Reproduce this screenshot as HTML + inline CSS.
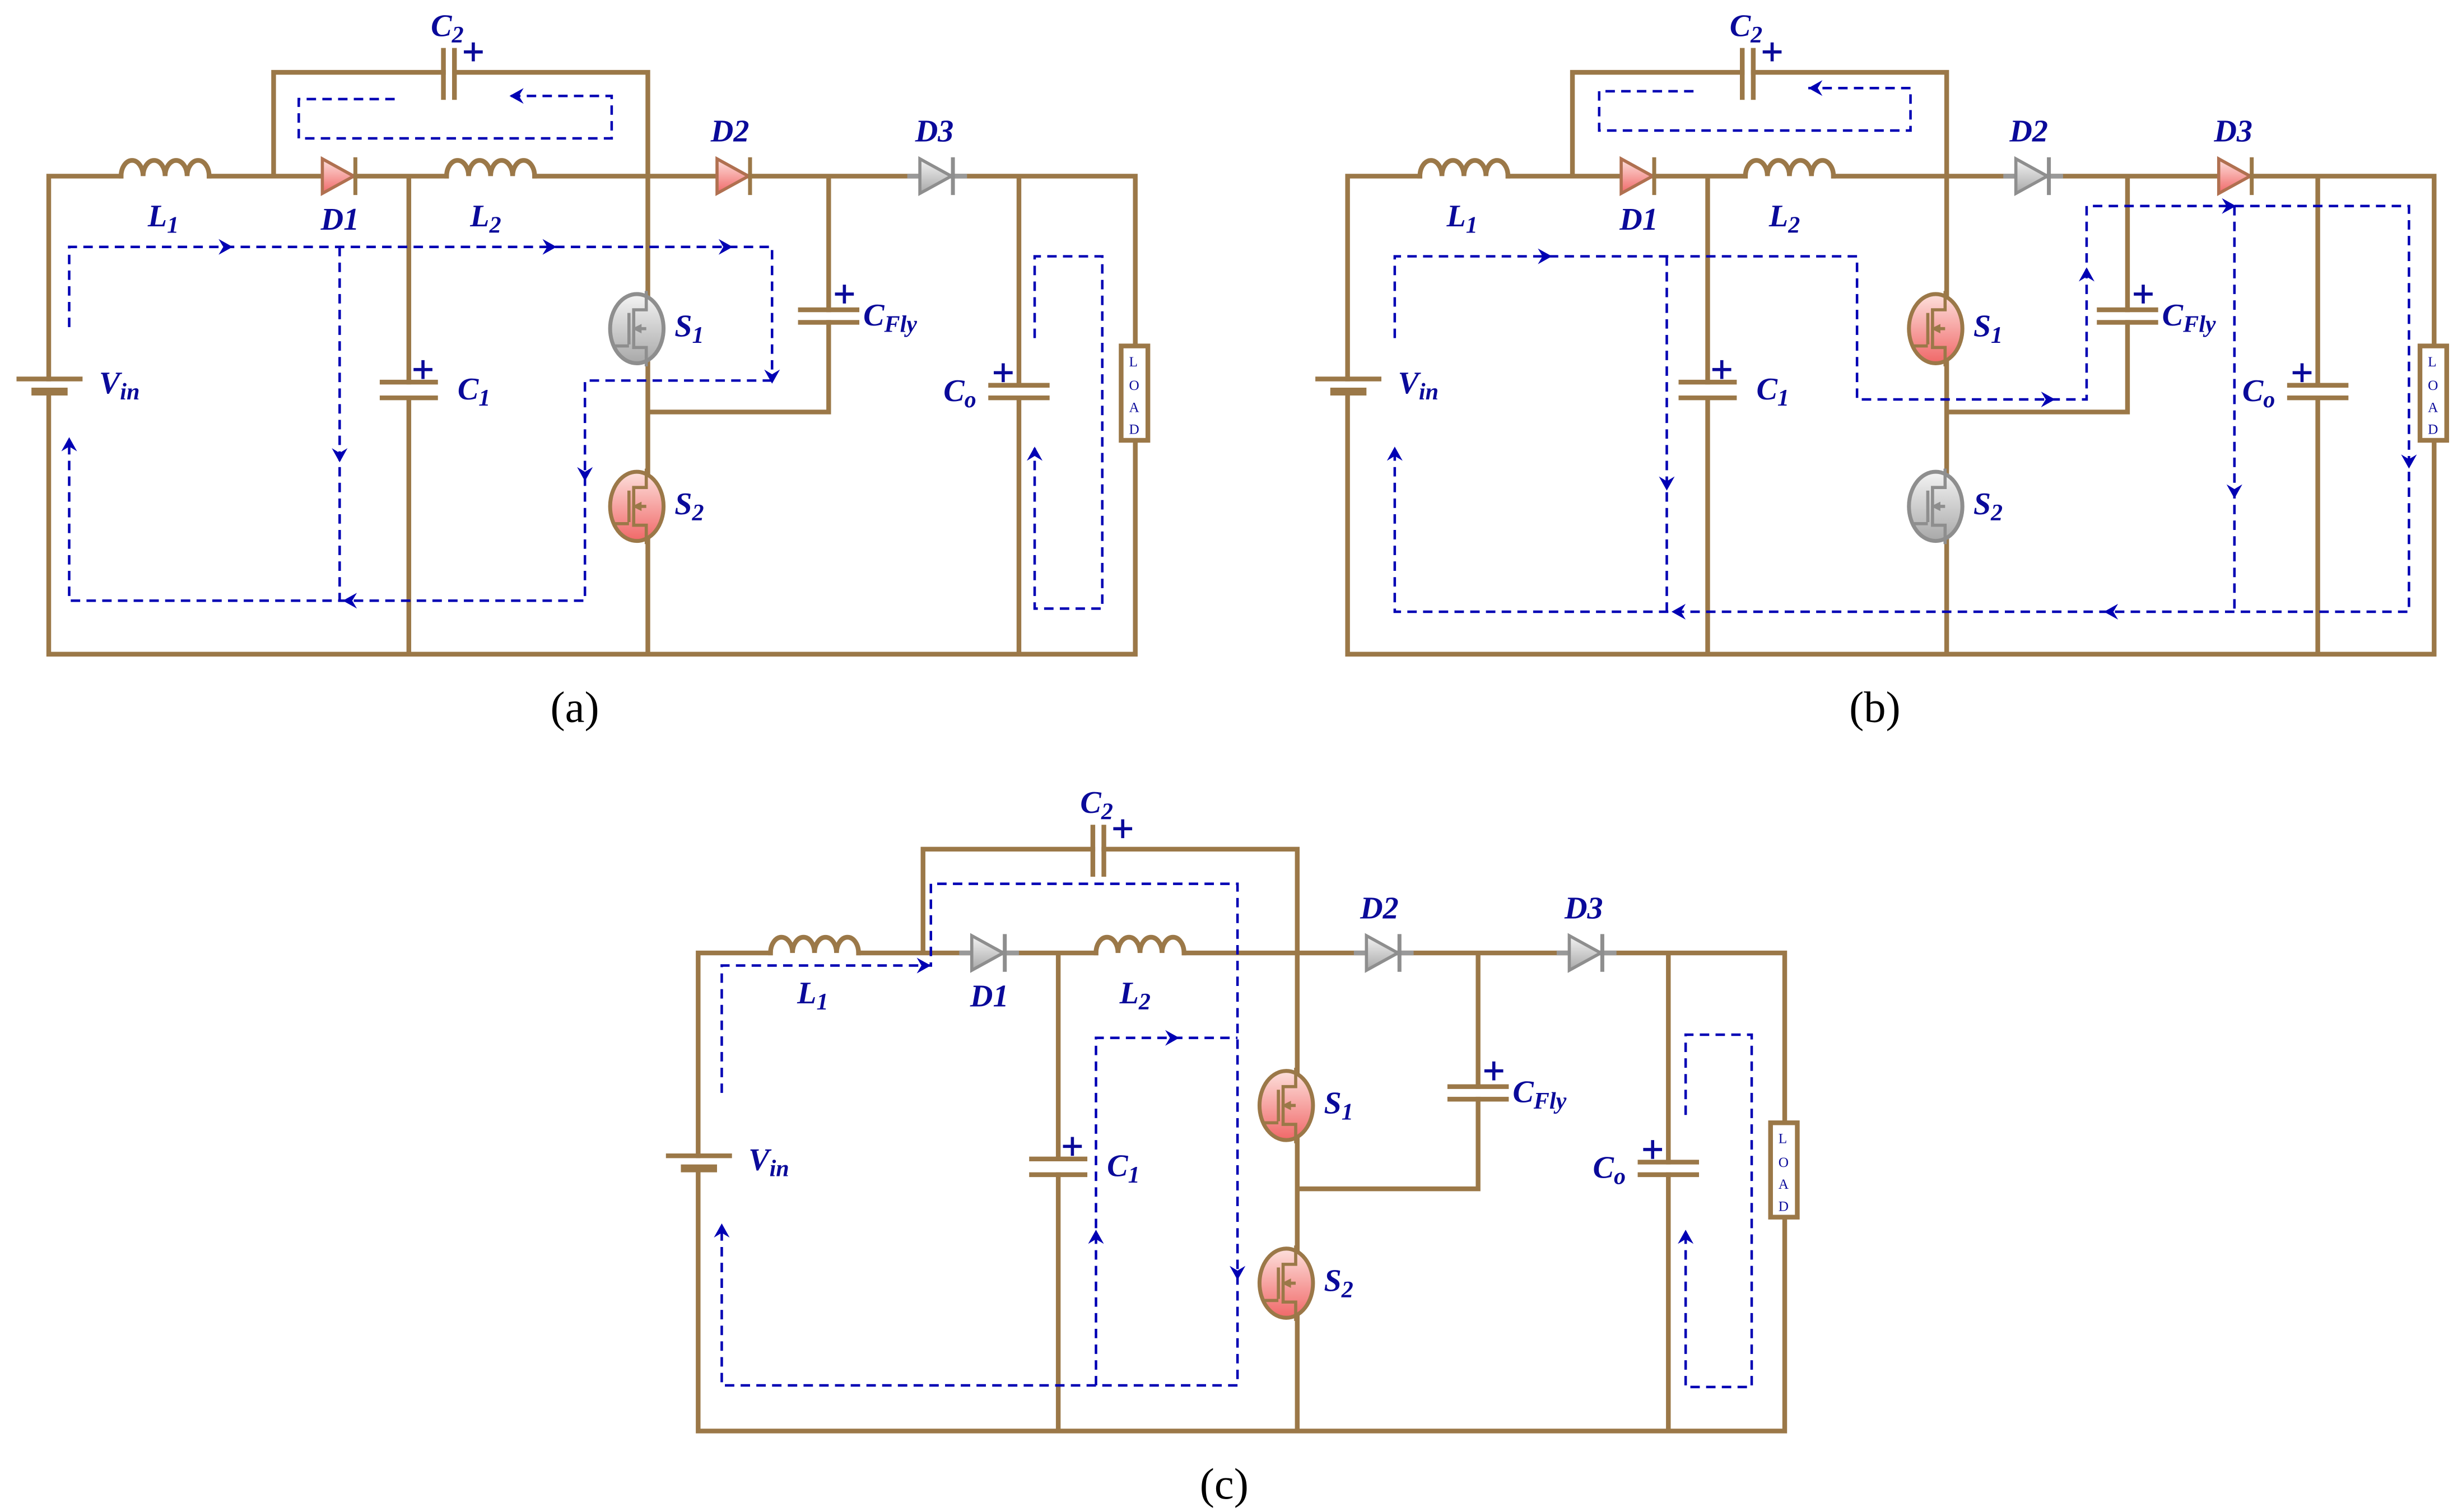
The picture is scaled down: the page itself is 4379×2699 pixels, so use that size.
<!DOCTYPE html>
<html><head><meta charset="utf-8"><style>
html,body{margin:0;padding:0;background:#fff;}
svg{display:block;}
.w{fill:none;stroke:#9b7848;stroke-width:3;stroke-linecap:square;}
.d{fill:none;stroke:#0000b4;stroke-width:1.6;stroke-dasharray:6,4;}
.t{font-family:"Liberation Serif",serif;font-weight:bold;font-style:italic;fill:#0a0a9a;font-size:20px;}
.s{font-size:15px;}
.cap{font-family:"Liberation Serif",serif;font-size:28px;fill:#000;}
.ld{font-family:"Liberation Serif",serif;font-size:9px;fill:#0a0a9a;}
</style></head><body>
<svg width="4379" height="2699" viewBox="0 0 1560 961.5" xmlns="http://www.w3.org/2000/svg">
<defs>
<linearGradient id="gp" x1="0" y1="0" x2="0" y2="1"><stop offset="0" stop-color="#fde0dc"/><stop offset="1" stop-color="#f06868"/></linearGradient>
<linearGradient id="gg" x1="0" y1="0" x2="0" y2="1"><stop offset="0" stop-color="#f4f4f4"/><stop offset="1" stop-color="#a8a8a8"/></linearGradient>
<g id="dp"><path d="M0,-11 L0,11 L20,0 Z" fill="url(#gp)" stroke="#b07050" stroke-width="2"/><path d="M21,-12V12" stroke="#9b7848" stroke-width="2.5"/></g>
<g id="dg"><path d="M-8,0H30" stroke="#999" stroke-width="3"/><path d="M0,-11 L0,11 L20,0 Z" fill="url(#gg)" stroke="#8e8e8e" stroke-width="2"/><path d="M21,-12V12" stroke="#8e8e8e" stroke-width="2.5"/></g>
<g id="mp"><ellipse cx="0" cy="0" rx="17" ry="22" fill="url(#gp)" stroke="#9b7848" stroke-width="2.5"/><path d="M6,-24V-12H-2V12H6V24 M-5,-10V10 M-15,11H-5 M-2,0H6" fill="none" stroke="#9b7848" stroke-width="2"/><path d="M-3,0 L3,-3 L3,3Z" fill="#9b7848"/></g>
<g id="mg"><ellipse cx="0" cy="0" rx="17" ry="22" fill="url(#gg)" stroke="#8e8e8e" stroke-width="2.5"/><path d="M6,-24V-12H-2V12H6V24 M-5,-10V10 M-15,11H-5 M-2,0H6" fill="none" stroke="#8e8e8e" stroke-width="2"/><path d="M-3,0 L3,-3 L3,3Z" fill="#8e8e8e"/></g>
<path id="ar" d="M0,0 L-9,-5 L-6,0 L-9,5Z" fill="#0000b4"/>
<g id="base">
<path class="w" d="M31,241V112H77 M133,112H205 M174,112V46H282 M289,46H412V416 M226,112H284 M340,112H456 M477,112H585 M606,112H722V220 M722,280V416H31V249 M260,112V243 M260,253V416 M527,112V197 M527,205V262H412 M648,112V245 M648,253V416"/>
<path class="w" d="M77,112 a7,10 0 0 1 14,0 a7,10 0 0 1 14,0 a7,10 0 0 1 14,0 a7,10 0 0 1 14,0 M284,112 a7,10 0 0 1 14,0 a7,10 0 0 1 14,0 a7,10 0 0 1 14,0 a7,10 0 0 1 14,0"/>
<path class="w" d="M12,241H51"/>
<path d="M20,249H43" stroke="#9b7848" stroke-width="5"/>
<path class="w" d="M282,32V62 M289,32V62 M243,243H277 M243,253H277 M509,197H545 M509,205H545 M630,245H666 M630,253H666"/>
<rect x="713" y="220" width="17" height="60" fill="#fff" stroke="#9b7848" stroke-width="3"/>
<path d="M295,33h12 M301,27v12 M263,235h12 M269,229v12 M531,187h12 M537,181v12 M632,237h12 M638,231v12" stroke="#0a0a9a" stroke-width="2"/>
</g>
</defs>

<!-- panel a -->
<use href="#base"/>
<use href="#dp" x="205" y="112"/><use href="#dp" x="456" y="112"/><use href="#dg" x="585" y="112"/>
<use href="#mg" x="405" y="209"/><use href="#mp" x="405" y="322"/>
<g class="t"><text x="274" y="23">C<tspan class="s" dy="4">2</tspan></text><text x="94" y="144">L<tspan class="s" dy="4">1</tspan></text><text x="204" y="146">D1</text><text x="299" y="144">L<tspan class="s" dy="4">2</tspan></text><text x="452" y="90">D2</text><text x="582" y="90">D3</text><text x="63" y="250">V<tspan class="s" dy="4">in</tspan></text><text x="291" y="254">C<tspan class="s" dy="4">1</tspan></text><text x="429" y="214">S<tspan class="s" dy="4">1</tspan></text><text x="429" y="327">S<tspan class="s" dy="4">2</tspan></text><text x="549" y="207">C<tspan class="s" dy="4">Fly</tspan></text><text x="600" y="255">C<tspan class="s" dy="4">o</tspan></text></g>
<g class="ld"><text x="718" y="233">L</text><text x="718" y="248">O</text><text x="718" y="262">A</text><text x="718" y="276">D</text></g>
<path class="d" d="M251,63H190V88H389V61H324 M44,208V157H491V242 M491,242H372V382H44V280 M216,157V382 M658,215V163H701V387H658V285"/>
<use href="#ar" transform="translate(324,61) rotate(180)"/><use href="#ar" transform="translate(148,157)"/><use href="#ar" transform="translate(354,157)"/><use href="#ar" transform="translate(466,157)"/><use href="#ar" transform="translate(491,244) rotate(90)"/><use href="#ar" transform="translate(372,306) rotate(90)"/><use href="#ar" transform="translate(216,294) rotate(90)"/><use href="#ar" transform="translate(218,382) rotate(180)"/><use href="#ar" transform="translate(44,278) rotate(-90)"/><use href="#ar" transform="translate(658,284) rotate(-90)"/>
<text class="cap" x="350" y="459">(a)</text>

<!-- panel b -->
<g transform="translate(826,0)">
<use href="#base"/>
<use href="#dp" x="205" y="112"/><use href="#dg" x="456" y="112"/><use href="#dp" x="585" y="112"/>
<use href="#mp" x="405" y="209"/><use href="#mg" x="405" y="322"/>
<g class="t"><text x="274" y="23">C<tspan class="s" dy="4">2</tspan></text><text x="94" y="144">L<tspan class="s" dy="4">1</tspan></text><text x="204" y="146">D1</text><text x="299" y="144">L<tspan class="s" dy="4">2</tspan></text><text x="452" y="90">D2</text><text x="582" y="90">D3</text><text x="63" y="250">V<tspan class="s" dy="4">in</tspan></text><text x="291" y="254">C<tspan class="s" dy="4">1</tspan></text><text x="429" y="214">S<tspan class="s" dy="4">1</tspan></text><text x="429" y="327">S<tspan class="s" dy="4">2</tspan></text><text x="549" y="207">C<tspan class="s" dy="4">Fly</tspan></text><text x="600" y="255">C<tspan class="s" dy="4">o</tspan></text></g>
<g class="ld"><text x="718" y="233">L</text><text x="718" y="248">O</text><text x="718" y="262">A</text><text x="718" y="276">D</text></g>
<path class="d" d="M251,58H191V83H389V56H324 M61,215V163H355V254H501V131H706V389H61V285 M234,163V389 M595,131V389"/>
<use href="#ar" transform="translate(324,56) rotate(180)"/><use href="#ar" transform="translate(161,163)"/><use href="#ar" transform="translate(481,254)"/><use href="#ar" transform="translate(501,170) rotate(-90)"/><use href="#ar" transform="translate(596,131)"/><use href="#ar" transform="translate(706,298) rotate(90)"/><use href="#ar" transform="translate(512,389) rotate(180)"/><use href="#ar" transform="translate(237,389) rotate(180)"/><use href="#ar" transform="translate(61,284) rotate(-90)"/><use href="#ar" transform="translate(234,312) rotate(90)"/><use href="#ar" transform="translate(595,317) rotate(90)"/>
<text class="cap" x="350" y="459">(b)</text>
</g>

<!-- panel c -->
<g transform="translate(413,494)">
<use href="#base"/>
<use href="#dg" x="205" y="112"/><use href="#dg" x="456" y="112"/><use href="#dg" x="585" y="112"/>
<use href="#mp" x="405" y="209"/><use href="#mp" x="405" y="322"/>
<g class="t"><text x="274" y="23">C<tspan class="s" dy="4">2</tspan></text><text x="94" y="144">L<tspan class="s" dy="4">1</tspan></text><text x="204" y="146">D1</text><text x="299" y="144">L<tspan class="s" dy="4">2</tspan></text><text x="452" y="90">D2</text><text x="582" y="90">D3</text><text x="63" y="250">V<tspan class="s" dy="4">in</tspan></text><text x="291" y="254">C<tspan class="s" dy="4">1</tspan></text><text x="429" y="214">S<tspan class="s" dy="4">1</tspan></text><text x="429" y="327">S<tspan class="s" dy="4">2</tspan></text><text x="549" y="207">C<tspan class="s" dy="4">Fly</tspan></text><text x="600" y="255">C<tspan class="s" dy="4">o</tspan></text></g>
<g class="ld"><text x="718" y="233">L</text><text x="718" y="248">O</text><text x="718" y="262">A</text><text x="718" y="276">D</text></g>
<path class="d" d="M46,201V120H179V68H374V387H46V286 M284,387V166H374 M659,215V164H701V388H659V290"/>
<use href="#ar" transform="translate(179,120)"/><use href="#ar" transform="translate(374,320) rotate(90)"/><use href="#ar" transform="translate(46,284) rotate(-90)"/><use href="#ar" transform="translate(284,288) rotate(-90)"/><use href="#ar" transform="translate(337,166)"/><use href="#ar" transform="translate(659,288) rotate(-90)"/>
<text class="cap" x="350" y="459">(c)</text>
</g>
</svg>
</body></html>
